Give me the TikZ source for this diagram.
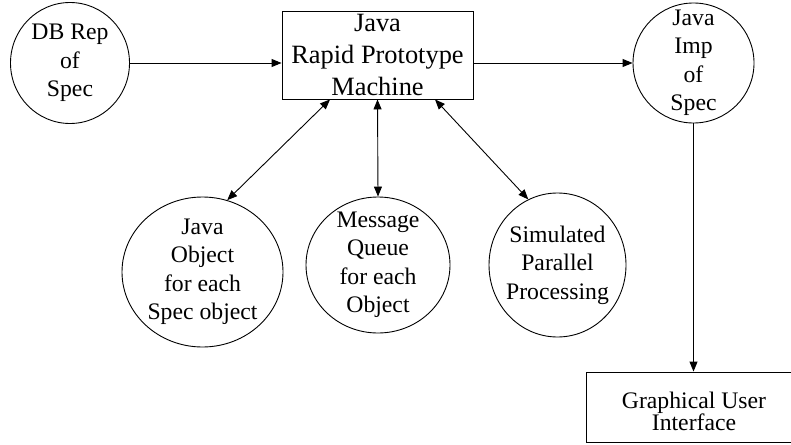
\documentclass[tikz,border=0pt]{standalone}
\usepackage{fontspec}
\setmainfont{Liberation Serif}
\usetikzlibrary{arrows.meta,shapes.geometric}

\begin{document}
\begin{tikzpicture}[x=1pt, y=-1pt, line width=0.9pt,
		>={Triangle[length=10pt,width=8pt]},
		blob/.style={draw, ellipse, inner sep=0pt},
		boxnode/.style={draw, rectangle, inner sep=0pt},
		lbl/.style={align=center, inner sep=0pt, font=\fontsize{23.7}{28.5}\selectfont}]
		\useasboundingbox (0, 0) rectangle (791, 444);
		\clip (0, 0) rectangle (791, 444);
		
		% shapes
		\node[blob, minimum width=119, minimum height=121] (db) at (70, 63) {};
		\node[boxnode, minimum width=191, minimum height=88] (proto) at (377.5, 55) {};
		\node[blob, minimum width=121, minimum height=120] (imp) at (693.5, 63) {};
		\node[blob, minimum width=161, minimum height=150] (jobj) at (202.5, 272) {};
		\node[blob, minimum width=144, minimum height=136] (mq) at (378, 265) {};
		\node[blob, minimum width=137, minimum height=144] (sim) at (557.5, 265) {};
		\node[boxnode, minimum width=216, minimum height=70] (gui) at (694, 407) {};
		
		% texts
		\node[lbl] (dbtext) at (db) {DB Rep\\of\\Spec};
		\node[lbl, font=\fontsize{26.4}{32}\selectfont] (prototext) at (proto) {Java\\Rapid Prototype\\Machine};
		\node[lbl] (imptext) at (imp) {Java\\Imp\\of\\Spec};
		\node[lbl] (jobjtext) at (jobj) {Java\\Object\\for each\\Spec object};
		\node[lbl] (mqtext) at (mq) {Message\\Queue\\for each\\Object};
		\node[lbl] (simtext) at (sim) {Simulated\\Parallel\\Processing};
		\node[lbl, font=\fontsize{23.7}{22.5}\selectfont, yshift=-4.5pt] (guitext) at (gui) {Graphical User\\Interface};
		
		\draw [->] (db.east) -- (db.east -| proto.west);
		\draw [->] (imp.west -| proto.east) -- (imp.west);
		\draw [->] (imp.south) -- (imp.south |- gui.north);
		
		\draw [<->] ([xshift=-47.5pt]proto.south) -- (jobj.71);
		\draw [<->] (proto.south) -- (mq.north);
		\draw [<->] ([xshift=57.5pt]proto.south) -- (sim.114);
		
	\end{tikzpicture}
\end{document}
